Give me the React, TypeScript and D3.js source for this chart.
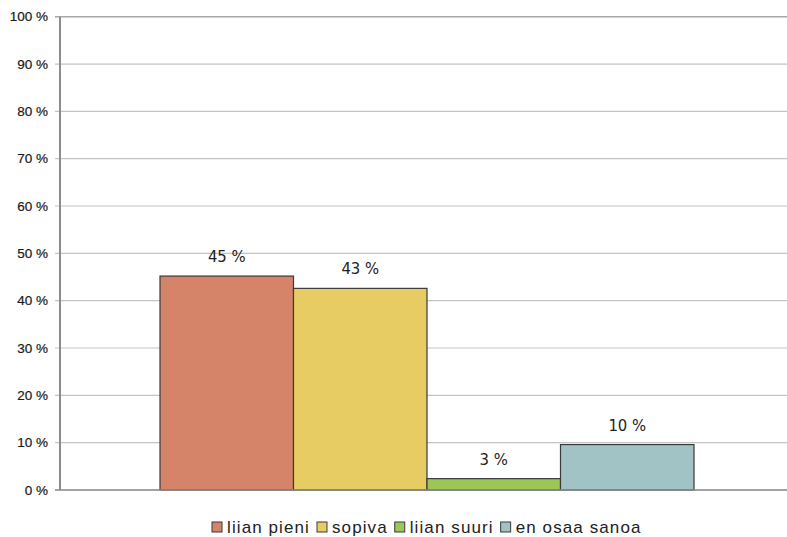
import React, { useEffect, useRef } from "react";
import * as d3 from "d3";

const categories = ["liian pieni", "sopiva", "liian suuri", "en osaa sanoa"];
const values = [45.2, 42.6, 2.4, 9.6];
const labels = ["45 %", "43 %", "3 %", "10 %"];
const colors = ["#d5846a", "#e7cc63", "#9cc757", "#a2c3c5"];
const yTicks = [0, 10, 20, 30, 40, 50, 60, 70, 80, 90, 100];

export default function App() {
  const ref = useRef<SVGSVGElement | null>(null);
  useEffect(() => {
    const svg = d3.select(ref.current);
    svg.selectAll("*").remove();
    const W = 787, H = 537;
    const left = 60, right = 794, top = 16.7, bottom = 490;
    const y = d3.scaleLinear().domain([0, 100]).range([bottom, top]);
    const x = d3.scaleBand().domain(categories).range([160, 694]).paddingInner(0).paddingOuter(0);

    svg.append("rect").attr("width", W).attr("height", H).attr("fill", "#fff");

    svg.append("g").selectAll("line").data(yTicks).join("line")
      .attr("x1", left - 5).attr("x2", right)
      .attr("y1", (d) => y(d)).attr("y2", (d) => y(d))
      .attr("stroke", (d) => (d === 100 ? "#a8a8a8" : "#c4c4c4"))
      .attr("stroke-width", (d) => (d === 100 ? 1.6 : 1.2));

    svg.append("g").selectAll("text").data(yTicks).join("text")
      .attr("x", 48).attr("y", (d) => y(d) + 4.5)
      .attr("text-anchor", "end")
      .attr("font-family", "Liberation Sans, Arial, sans-serif")
      .attr("font-size", 13.5).attr("fill", "#1a1a1a")
      .attr("stroke", "#1a1a1a").attr("stroke-width", 0.2)
      .text((d) => `${d} %`);

    svg.append("g").selectAll("rect").data(categories).join("rect")
      .attr("x", (d) => x(d)!)
      .attr("y", (d, i) => y(values[i]))
      .attr("width", x.bandwidth())
      .attr("height", (d, i) => y(0) - y(values[i]))
      .attr("fill", (d, i) => colors[i])
      .attr("stroke", "#3a3a3a").attr("stroke-width", 1.2);

    svg.append("line").attr("x1", left).attr("x2", left).attr("y1", top).attr("y2", bottom)
      .attr("stroke", "#8c8c8c").attr("stroke-width", 2);
    svg.append("line").attr("x1", left - 5).attr("x2", right).attr("y1", bottom).attr("y2", bottom)
      .attr("stroke", "#8c8c8c").attr("stroke-width", 1.6);

    svg.append("g").selectAll("text").data(categories).join("text")
      .attr("x", (d) => x(d)! + x.bandwidth() / 2)
      .attr("y", (d, i) => y(values[i]) - 14)
      .attr("text-anchor", "middle")
      .attr("font-family", "DejaVu Sans Condensed, DejaVu Sans, sans-serif")
      .attr("font-stretch", "condensed")
      .attr("font-size", 16.5).attr("fill", "#222")
      .text((d, i) => labels[i]);

    const lg = svg.append("g");
    let cx = 212;
    categories.forEach((c, i) => {
      lg.append("rect").attr("x", cx).attr("y", 522).attr("width", 10).attr("height", 10)
        .attr("fill", colors[i]).attr("stroke", "#3a3a3a").attr("stroke-width", 1);
      const t = lg.append("text").attr("x", cx + 15).attr("y", 533)
        .attr("font-family", "Liberation Sans, Arial, sans-serif")
        .attr("font-size", 17).attr("letter-spacing", 1.1)
        .attr("fill", "#222").text(c);
      const w = (t.node() as SVGTextElement).getComputedTextLength();
      cx += 15 + w + 7;
    });
  }, []);
  return (
    <div style={{ position: "absolute", left: 0, top: 0, width: 787, height: 537, overflow: "hidden" }}>
      <svg ref={ref} width={787} height={537} style={{ display: "block" }} />
    </div>
  );
}
